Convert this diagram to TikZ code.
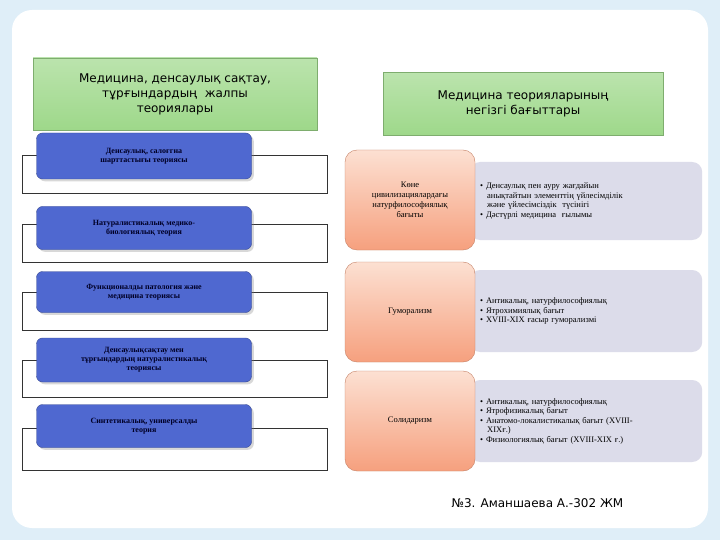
\documentclass[tikz,border=0pt]{standalone}
\usepackage{fontspec}
\setmainfont{Liberation Serif}
\newfontfamily\titlefont{DejaVu Sans}
\usetikzlibrary{shadows}
\definecolor{bluebox}{HTML}{4F68D0}
\definecolor{orange1}{HTML}{F6A07E}
\definecolor{orange2}{HTML}{FCE0D2}
\definecolor{graybox}{HTML}{DCDCEA}
\definecolor{greenbox}{HTML}{9ED88A}
\definecolor{bgblue}{HTML}{C9E2F4}
\tikzset{
  gtitle/.style={draw=greenbox!80!black, line width=0.4pt, top color=greenbox!70!white, bottom color=greenbox, align=center, font=\titlefont\fontsize{12}{15}\selectfont, inner sep=2pt},
  bnode/.style={rounded corners=6pt, fill=bluebox, draw=bluebox!70!black, drop shadow={opacity=0.3}, align=center, font=\bfseries\fontsize{8}{9}\selectfont, text=black!85!blue, inner sep=2pt},
  wrect/.style={draw=black!80, fill=white, line width=0.6pt},
  onode/.style={rounded corners=12pt, top color=orange2, bottom color=orange1, draw=orange1!80!black, align=center, font=\fontsize{8.5}{10}\selectfont, inner sep=2pt},
  gnode/.style={rounded corners=10pt, fill=graybox, draw=none, align=left, font=\fontsize{8.5}{9.5}\selectfont, text width=212pt, inner xsep=10pt, inner ysep=4pt},
}
\newcommand{\bl}{\textbullet\ }
\begin{document}
\begin{tikzpicture}[x=1pt,y=-1pt]
\useasboundingbox (0,0) rectangle (720,540);
\fill[bgblue!60] (0,0) rectangle (720,540);
\fill[white, rounded corners=20pt] (12,10) rectangle (708,528);
% left title
\node[gtitle, minimum width=284pt, minimum height=72pt] (lt) at (175,94) {Медицина, денсаулық сақтау,\\ тұрғындардың \ жалпы\\ теориялары};
\node[gtitle, minimum width=280pt, minimum height=63pt] (rt) at (523,104) {Медицина теорияларының\\ негізгі бағыттары};
% white rectangles
\draw[wrect] (22,155) rectangle (327,193);
\draw[wrect] (22,224) rectangle (327,262);
\draw[wrect] (22,292) rectangle (327,330);
\draw[wrect] (22,360) rectangle (327,397);
\draw[wrect] (22,428) rectangle (327,470);
% blue nodes
\node[bnode, minimum width=215pt, minimum height=46pt] (b1) at (144,156) {Денсаулық, салоғгна\\ шарттастығы теориясы};
\node[bnode, minimum width=215pt, minimum height=43pt] (b2) at (144,228) {Натуралистикалық медико-\\ биологиялық теория};
\node[bnode, minimum width=215pt, minimum height=41pt] (b3) at (144,292) {Функционалды патология және\\ медицина теориясы};
\node[bnode, minimum width=215pt, minimum height=44pt] (b4) at (144,360) {Денсаулықсақтау мен\\ тұрғындардың натуралистикалық\\ теориясы};
\node[bnode, minimum width=215pt, minimum height=43pt] (b5) at (144,426) {Синтетикалық, универсалды\\ теория};
% gray boxes
\node[gnode, minimum height=78pt, anchor=west] (g1) at (470,201) {\bl Денсаулық пен ауру жағдайын\\ \hspace*{7pt}анықтайтын элементтің үйлесімділік\\ \hspace*{7pt}және үйлесімсіздік \ түсінігі\\ \bl Дәстүрлі медицина \ ғылымы};
\node[gnode, minimum height=82pt, anchor=west] (g2) at (470,311) {\bl Антикалық, натурфилософиялық\\ \bl Ятрохимиялық бағыт\\ \bl XVIII-XIX ғасыр гуморализмі};
\node[gnode, minimum height=82pt, anchor=west] (g3) at (470,421) {\bl Антикалық, натурфилософиялық\\ \bl Ятрофизикалық бағыт\\ \bl Анатомо-локалистикалық бағыт (XVIII-\\ \hspace*{7pt}XIXғ.)\\ \bl Физиологиялық бағыт (XVIII-XIX ғ.)};
% orange nodes
\node[onode, minimum width=130pt, minimum height=100pt] (o1) at (410,200) {Көне\\ цивилизациялардағы\\ натурфилософиялық\\ бағыты};
\node[onode, minimum width=130pt, minimum height=100pt] (o2) at (410,312) {Гуморализм};
\node[onode, minimum width=130pt, minimum height=100pt] (o3) at (410,421) {Солидаризм};
\node[font=\titlefont\fontsize{12}{14}\selectfont, anchor=west] (au) at (448,503) {№3. Аманшаева А.-302 ЖМ};
\end{tikzpicture}
\end{document}
